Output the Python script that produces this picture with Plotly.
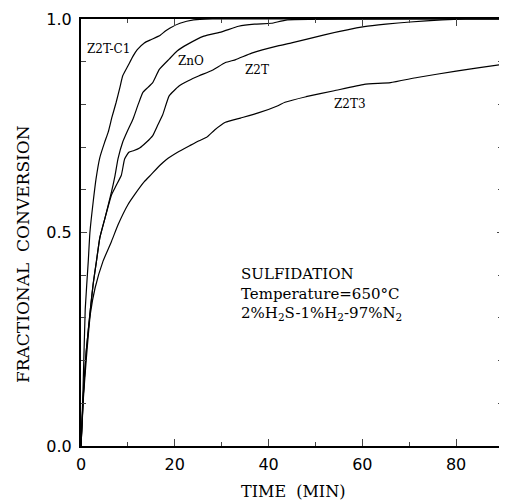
import plotly.graph_objects as go

# ---- data ----
c1_x = [0, 0.4, 0.9, 1.55, 1.9, 2.6, 3.2, 4.0, 5.0, 5.8, 6.6, 7.5, 8.3, 8.9, 10.0, 11.1, 12.0, 13.5, 15.0, 16.9, 18.0, 19.0, 21.1, 24.0, 28.0, 90]
c1_y = [0, 0.12, 0.32, 0.433, 0.50, 0.572, 0.625, 0.675, 0.71, 0.735, 0.77, 0.805, 0.84, 0.867, 0.89, 0.913, 0.928, 0.944, 0.952, 0.962, 0.972, 0.979, 0.99, 0.998, 1.0, 1.0]

zno_x = [0, 0.5, 1.1, 2.0, 2.6, 3.3, 4.0, 5.1, 6.5, 7.2, 7.9, 8.9, 10.0, 11.1, 12.2, 13.2, 14.3, 15.3, 16.7, 18.8, 20.5, 22.6, 26.2, 30.0, 33.6, 37.0, 40.6, 44.0, 90]
zno_y = [0, 0.12, 0.22, 0.32, 0.38, 0.433, 0.487, 0.533, 0.595, 0.63, 0.673, 0.712, 0.74, 0.766, 0.80, 0.828, 0.84, 0.851, 0.882, 0.906, 0.925, 0.94, 0.96, 0.97, 0.983, 0.988, 0.99, 0.998, 1.0]

z2t_x = [0, 0.5, 1.1, 2.0, 2.6, 3.3, 4.0, 5.1, 6.5, 7.5, 8.6, 9.3, 10.2, 11.3, 12.5, 14.0, 15.3, 16.3, 17.4, 18.8, 20.9, 23.0, 25.2, 28.0, 30.8, 33.0, 36.4, 42.0, 44.9, 51.9, 60.4, 65.0, 70.2, 77.0, 82.0, 90]
z2t_y = [0, 0.12, 0.22, 0.32, 0.38, 0.433, 0.487, 0.533, 0.588, 0.61, 0.634, 0.672, 0.688, 0.692, 0.698, 0.712, 0.727, 0.75, 0.775, 0.82, 0.843, 0.856, 0.867, 0.88, 0.898, 0.905, 0.92, 0.937, 0.944, 0.963, 0.982, 0.988, 0.993, 0.998, 1.0, 1.0]

z2t3_x = [0, 0.5, 1.1, 2.0, 3.0, 4.7, 6.5, 7.9, 10.0, 11.4, 13.5, 14.9, 16.9, 18.1, 20.6, 23.3, 25.2, 26.8, 28.5, 30.8, 34.0, 37.8, 42.0, 43.5, 48.0, 54.0, 60.4, 66.0, 71.7, 80.0, 85.0, 90]
z2t3_y = [0, 0.11, 0.2, 0.31, 0.37, 0.433, 0.479, 0.518, 0.565, 0.588, 0.619, 0.635, 0.658, 0.67, 0.688, 0.704, 0.715, 0.723, 0.74, 0.758, 0.768, 0.78, 0.797, 0.805, 0.818, 0.832, 0.847, 0.851, 0.863, 0.878, 0.886, 0.894]

series_names = ["Z2T-C1", "ZnO", "Z2T", "Z2T3"]
label_x = [0.8, 20.3, 34.5, 53.5]
label_y = [0.93, 0.902, 0.881, 0.80]

x_tickvals = [0, 20, 40, 60, 80]
y_tickvals = [0, 0.5, 1.0]
y_ticktext = ["0.0", "0.5", "1.0"]

note_lines = ["SULFIDATION", "Temperature=650°C", "2%H<sub>2</sub>S-1%H<sub>2</sub>-97%N<sub>2</sub>"]

SERIF = "DejaVu Serif"
SANS = "DejaVu Sans"

fig = go.Figure()
for xs, ys, nm in zip([c1_x, zno_x, z2t_x, z2t3_x], [c1_y, zno_y, z2t_y, z2t3_y], series_names):
    fig.add_trace(go.Scatter(x=xs, y=ys, mode="lines", name=nm,
                             line=dict(color="black", width=1.2, shape="spline", smoothing=0.4)))

for nm, lx, ly in zip(series_names, label_x, label_y):
    fig.add_annotation(x=lx, y=ly, text=nm, showarrow=False, xanchor="left", yanchor="middle",
                       font=dict(family=SERIF, size=12, color="black"))

fig.add_annotation(x=33.8, y=0.356, text="<br>".join(note_lines), showarrow=False,
                   xanchor="left", yanchor="middle", align="left",
                   font=dict(family=SERIF, size=15, color="black"))

# axis titles
fig.add_annotation(xref="paper", yref="paper", x=0.502, y=-0.107, text="TIME  (MIN)", showarrow=False,
                   xanchor="center", yanchor="middle", font=dict(family=SERIF, size=16, color="black"))
fig.add_annotation(xref="paper", yref="y", x=-0.137, y=0.45, text="FRACTIONAL  CONVERSION", showarrow=False,
                   textangle=-90, xanchor="center", yanchor="middle", font=dict(family=SERIF, size=17, color="black"))

# page body has an 8px margin: figure is sized so that the plot area lands at x 81..505, y 16..446
fig.update_layout(
    width=499, height=494,
    margin=dict(l=73, r=2, t=8, b=56),
    paper_bgcolor="white", plot_bgcolor="white",
    showlegend=False,
    xaxis=dict(range=[0, 90], tickvals=x_tickvals, ticks="inside", ticklen=7, tickwidth=1.2,
               showline=True, linecolor="black", linewidth=2, mirror="allticks", showgrid=False,
               zeroline=False, tickfont=dict(family=SANS, size=16, color="black"),
               minor=dict(dtick=10, tick0=0, ticks="inside", ticklen=4, tickwidth=1, showgrid=False),
               ticklabelstandoff=3, ticklabeloverflow="allow"),
    yaxis=dict(range=[0, 1.0], tickvals=y_tickvals, ticktext=y_ticktext, ticks="inside", ticklen=6, tickwidth=1.2,
               showline=True, linecolor="black", linewidth=2, mirror="allticks", showgrid=False,
               zeroline=False, tickfont=dict(family=SANS, size=16, color="black"),
               minor=dict(dtick=0.1, tick0=0, ticks="inside", ticklen=5, tickwidth=1, showgrid=False),
               ticklabelstandoff=4, ticklabeloverflow="allow"),
)

fig.write_html("out.html")
